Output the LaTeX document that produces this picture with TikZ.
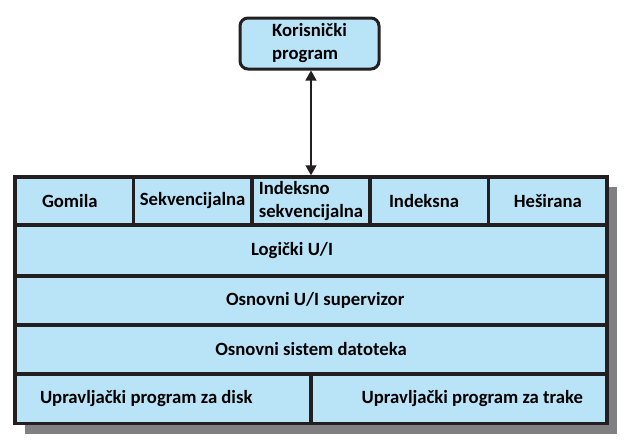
\documentclass[tikz,border=0pt]{standalone}
\usepackage{fontspec}
\setmainfont{Carlito}
\usetikzlibrary{positioning,calc,arrows.meta}

\definecolor{cellblue}{RGB}{185,228,248}
\definecolor{edgedark}{RGB}{35,31,32}
\definecolor{shadowgray}{RGB}{128,128,131}

\begin{document}
\begin{tikzpicture}[x=1pt, y=-1pt]
	\useasboundingbox (0,0) rectangle (632,447);
	\tikzset{
		cell/.style={draw=edgedark, fill=cellblue, line width=3.5pt, inner sep=0pt,
			align=center, font=\fontsize{18.7}{23}\selectfont\bfseries},
		topcell/.style={cell, minimum width=118.4pt, minimum height=48pt},
		rowcell/.style={cell, minimum width=592pt, minimum height=49pt},
		halfcell/.style={cell, minimum width=296pt, minimum height=49.5pt},
		headtip/.tip={Triangle[length=10pt,width=11pt]},
	}
	% shadow behind the stack
	\fill[shadowgray] (25,187) rectangle (617,434);

	\node[cell, rounded corners=8pt, line width=3pt, minimum width=139pt, minimum height=51pt, align=left]
		(user) at (309.5, 43.5) {Korisnički\\program};

	\node[topcell, align=flush left, inner xsep=27pt, text width=64.4pt] (heap) at (74.2, 201) {Gomila};
	\node[topcell] (seq) at (192.6, 201) {Sekvencijalna};
	\node[topcell, align=left] (idxseq) at (311, 201) {Indeksno\\sekvencijalna};
	\node[topcell, align=flush left, inner xsep=18.8pt, text width=80.8pt] (idx) at (429.4, 201) {Indeksna};
	\node[topcell] (hash) at (547.8, 201) {Heširana};

	\node[cell, minimum width=592pt, minimum height=51pt, align=flush left, inner xsep=236pt, text width=120pt]
		(logio) at (311, 250.5) {Logički U/I};
	\node[rowcell, align=flush right, inner xsep=202.6pt, text width=186.8pt] (basicio) at (311, 300.5) {Osnovni U/I supervizor};
	\node[rowcell] (basicfs) at (311, 349.5) {Osnovni sistem datoteka};

	\node[halfcell, align=flush left, inner xsep=25pt, text width=246pt]
		(disk) at (163, 398.5) {Upravljački program za disk};
	\node[halfcell, align=flush right, inner xsep=24pt, text width=248pt]
		(tape) at (459, 398.5) {Upravljački program za trake};

	\draw[headtip-headtip, line width=1.3pt, draw=edgedark, fill=edgedark]
		(idxseq.north |- user.south) to (idxseq.north);
\end{tikzpicture}
\end{document}
